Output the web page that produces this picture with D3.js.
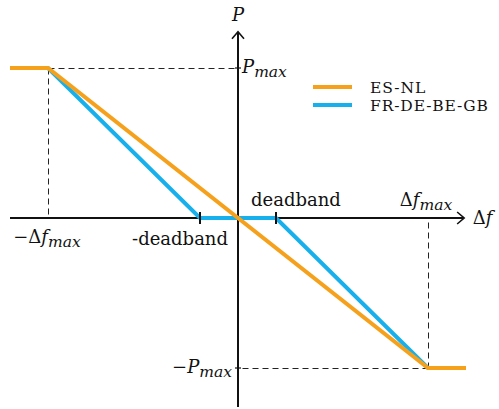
<!DOCTYPE html>
<html><head><meta charset="utf-8">
<script src="https://cdn.jsdelivr.net/npm/d3@7/dist/d3.min.js"></script>
<style>body{margin:0;background:#fff}svg{display:block}text{font-family:"DejaVu Serif","Liberation Serif",serif;fill:#111}</style>
</head><body><svg id="c" width="499" height="409"></svg>
<script>
// Data (normalized units: Δf in units of Δf_max, P in units of P_max)
const seriesNames = ["ES-NL", "FR-DE-BE-GB"];
const colors = ["#F6A11C", "#17B0EC"];
const esnlF = [-1.2, -1, 1, 1.2];
const esnlP = [1, 1, -1, -1];
const frdeF = [-1.2, -1, -0.2, 0.2, 1, 1.2];
const frdeP = [1, 1, 0, 0, -1, -1];
const deadband = 0.2;
const fMax = 1, pMax = 1;

const svg = d3.select("#c");
const x = d3.scaleLinear().domain([0, 1]).range([238, 428]);
const y = d3.scaleLinear().domain([0, 1]).range([218, 68]);
const ink = "#111";

// dashed guides
const dash = "6,4";
const guides = [
  [[-fMax, pMax], [0, pMax]], [[-fMax, pMax], [-fMax, 0]],
  [[fMax, -pMax], [0, -pMax]], [[fMax, -pMax], [fMax, 0]]
];
guides.forEach(g => svg.append("line")
  .attr("x1", x(g[0][0]) + 0.5).attr("y1", y(g[0][1]) + 0.5)
  .attr("x2", x(g[1][0]) + 0.5).attr("y2", y(g[1][1]) + 0.5)
  .attr("stroke", "#222").attr("stroke-width", 1).attr("stroke-dasharray", dash));

// axes
svg.append("line").attr("x1", x(-1.2)).attr("x2", x(1.185)).attr("y1", y(0)).attr("y2", y(0)).attr("stroke", ink).attr("stroke-width", 2);
svg.append("line").attr("x1", x(0)).attr("x2", x(0)).attr("y1", y(-1.26)).attr("y2", y(1.235)).attr("stroke", ink).attr("stroke-width", 2);
// arrow heads
const ax = x(1.185), ay = y(1.235);
svg.append("path").attr("d", `M${ax-6},${y(0)-6} L${ax+1},${y(0)} L${ax-6},${y(0)+6}`).attr("fill", "none").attr("stroke", ink).attr("stroke-width", 1.6);
svg.append("path").attr("d", `M${x(0)-6},${ay+6} L${x(0)},${ay-1} L${x(0)+6},${ay+6}`).attr("fill", "none").attr("stroke", ink).attr("stroke-width", 1.6);

// series lines
const line = d3.line().x(d => x(d[0])).y(d => y(d[1]));
const series = [d3.zip(frdeF, frdeP), d3.zip(esnlF, esnlP)];
svg.append("path").datum(series[0]).attr("d", line).attr("fill", "none").attr("stroke", colors[1]).attr("stroke-width", 4);
svg.append("path").datum(series[1]).attr("d", line).attr("fill", "none").attr("stroke", colors[0]).attr("stroke-width", 4);

// deadband ticks
[-deadband, deadband].forEach(d => svg.append("line").attr("x1", x(d)).attr("x2", x(d)).attr("y1", y(0) - 6).attr("y2", y(0) + 6).attr("stroke", ink).attr("stroke-width", 2));
// tick marks on y axis
[pMax, -pMax].forEach(p => svg.append("line").attr("x1", x(0) - 3).attr("x2", x(0) + 3).attr("y1", y(p)).attr("y2", y(p)).attr("stroke", ink).attr("stroke-width", 1.2));

// labels
function mathLabel(px, py, anchor, parts) {
  const t = svg.append("text").attr("x", px).attr("y", py).attr("text-anchor", anchor).attr("font-size", 18);
  parts.forEach(p => {
    const s = t.append("tspan").text(p.t);
    if (p.i) s.attr("font-style", "italic");
    if (p.sub) s.attr("font-size", 15.5).attr("dy", 4);
  });
  return t;
}
mathLabel(x(0), 21, "middle", [{t: "P", i: 1}]);
mathLabel(x(0) + 4, y(pMax) + 5, "start", [{t: "P", i: 1}, {t: "max", i: 1, sub: 1}]);
mathLabel(x(0) - 6, y(-pMax) + 5, "end", [{t: "−"}, {t: "P", i: 1}, {t: "max", i: 1, sub: 1}]);
mathLabel(x(-fMax) - 1, y(0) + 25, "middle", [{t: "−Δ"}, {t: "f", i: 1}, {t: "max", i: 1, sub: 1}]);
mathLabel(x(fMax) - 2, y(0) - 12, "middle", [{t: "Δ"}, {t: "f", i: 1}, {t: "max", i: 1, sub: 1}]);
mathLabel(x(1.235), y(0) + 6, "start", [{t: "Δ"}, {t: "f", i: 1}]);
svg.append("text").attr("x", x(-deadband) + 28).attr("y", y(0) + 27).attr("text-anchor", "end").attr("font-size", 18).text("-deadband");
svg.append("text").attr("x", x(deadband) + 20).attr("y", y(0) - 12).attr("text-anchor", "middle").attr("font-size", 18).text("deadband");

// legend
const lg = svg.append("g").attr("transform", "translate(313,87)");
seriesNames.forEach((n, i) => {
  lg.append("line").attr("x1", 0).attr("x2", 39).attr("y1", i * 18).attr("y2", i * 18).attr("stroke", colors[i]).attr("stroke-width", 4);
  lg.append("text").attr("x", 57).attr("y", i * 18 + 5.5).attr("font-size", 15.5).attr("letter-spacing", 0.9).text(n);
});
</script></body></html>
